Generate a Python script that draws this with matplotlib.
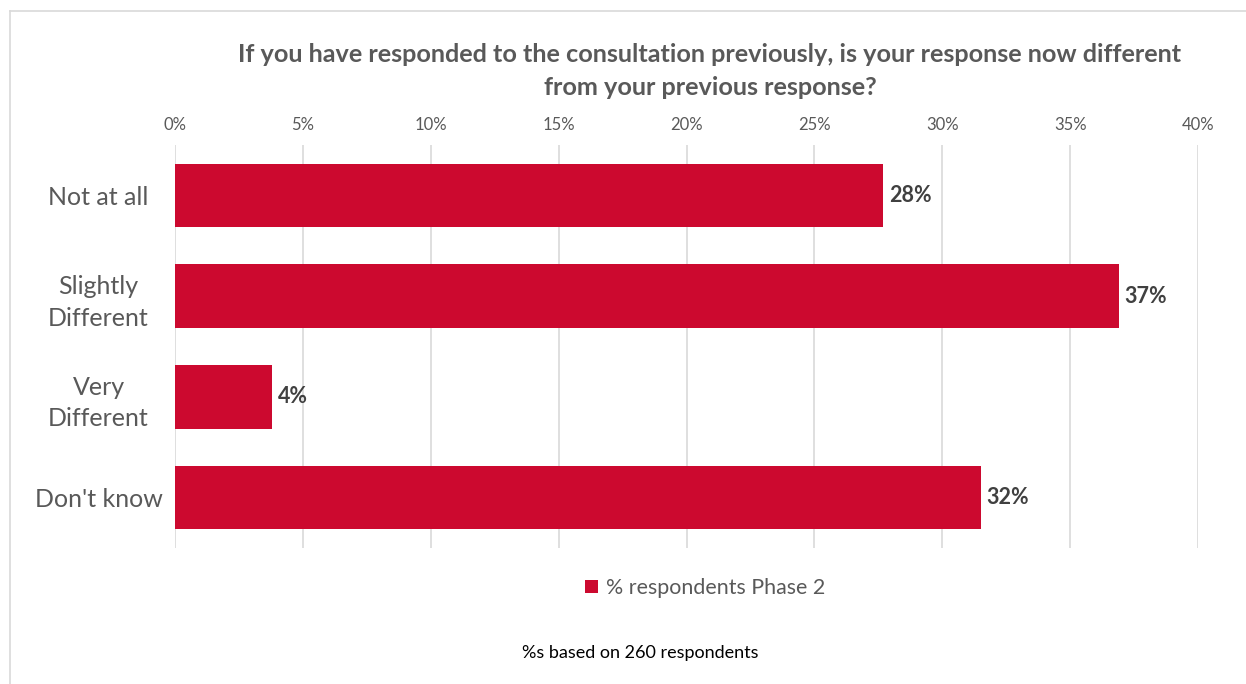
import matplotlib.pyplot as plt
from matplotlib.lines import Line2D
from matplotlib.ticker import FuncFormatter

categories = ["Not at all", "Slightly\nDifferent", "Very\nDifferent", "Don't know"]
values = [27.7, 36.9, 3.8, 31.5]
labels = ["28%", "37%", "4%", "32%"]
ticks = [0, 5, 10, 15, 20, 25, 30, 35, 40]

RED = "#CC092F"
GREY = "#595959"
FONT = ["Lato", "DejaVu Sans"]

plt.rcParams["font.family"] = FONT

fig = plt.figure(figsize=(12.46, 6.84), dpi=100)
ax = fig.add_axes([175 / 1246, 1 - 548 / 684, 1023 / 1246, 403 / 684])

pos = list(range(len(categories)))
bars = ax.barh(pos, values, height=0.63, color=RED, label="% respondents Phase 2", zorder=3)

for b, txt in zip(bars, labels):
    ax.annotate(txt, (b.get_width(), b.get_y() + b.get_height() / 2),
                xytext=(4, 0), textcoords="offset points", va="center", ha="left",
                fontsize=15.5, fontweight="bold", color="#404040")

ax.set_xlim(0, 40)
ax.set_ylim(3.5, -0.5)
ax.set_xticks(ticks)
ax.xaxis.set_major_formatter(FuncFormatter(lambda v, p: f"{v:.0f}%"))
ax.xaxis.tick_top()
ax.tick_params(axis="x", length=0, pad=9, labelsize=12, labelcolor=GREY)
ax.set_yticks(pos)
ax.set_yticklabels(categories, ha="center", multialignment="center", linespacing=1.45)
ax.tick_params(axis="y", length=0, pad=55, labelsize=18, labelcolor=GREY)
ax.grid(axis="x", color="#D9D9D9", linewidth=1.2, zorder=0)
for s in ax.spines.values():
    s.set_visible(False)

fig.text(710 / 1246, 1 - 71 / 684,
         "If you have responded to the consultation previously, is your response now different\nfrom your previous response?",
         ha="center", va="center", fontsize=18.2, fontweight="bold", color=GREY, linespacing=1.5)

fig.legend(handles=[bars], loc="center", bbox_to_anchor=(705 / 1246, 1 - 588 / 684),
           frameon=False, fontsize=15.4, labelcolor=GREY, handlelength=0.6, handleheight=0.6,
           handletextpad=0.4)

fig.text(640 / 1246, 1 - 653 / 684, "%s based on 260 respondents", ha="center", va="center",
         fontsize=13, color="black")

# outer frame: only top and left edges visible
fig.add_artist(Line2D([10 / 1246, 1], [1 - 11 / 684] * 2, color="#D9D9D9", linewidth=1.2))
fig.add_artist(Line2D([10 / 1246] * 2, [0, 1 - 11 / 684], color="#D9D9D9", linewidth=1.2))

fig.savefig("out.png", dpi=100, facecolor="white")
